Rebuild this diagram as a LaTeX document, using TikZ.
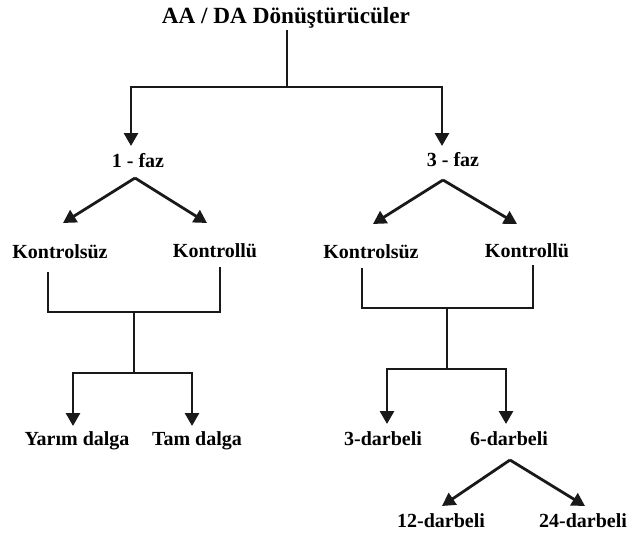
\documentclass[tikz,border=0pt]{standalone}
\usepackage{fontspec}
\setmainfont{Liberation Serif}
\usetikzlibrary{arrows.meta}
\begin{document}
\begin{tikzpicture}[x=1pt,y=-1pt,
  lbl/.style={anchor=base,inner sep=0pt,font=\fontsize{20}{22}\selectfont\bfseries},
  ttl/.style={anchor=base,inner sep=0pt,font=\fontsize{23.2}{26}\selectfont\bfseries},
  conn/.style={line width=2.8pt,draw=black!90},
  arr/.style={conn,-{Triangle[length=13pt,width=14pt]}}]
\useasboundingbox (0,0) rectangle (633,533);
% texts
\node[ttl] (title) at (286,23) {AA / DA Dönüştürücüler};
\node[lbl] (f1) at (138,167) {1 - faz};
\node[lbl] (f3) at (453,166) {3 - faz};
\node[lbl] (k1) at (60,258) {Kontrolsüz};
\node[lbl] (c1) at (215,257) {Kontrollü};
\node[lbl] (k3) at (371,258) {Kontrolsüz};
\node[lbl] (c3) at (527,257) {Kontrollü};
\node[lbl] (yd) at (77,445) {Yarım dalga};
\node[lbl] (td) at (197,445) {Tam dalga};
\node[lbl] (d3) at (383,445) {3-darbeli};
\node[lbl] (d6) at (509,445) {6-darbeli};
\node[lbl] (d12) at (441,527) {12-darbeli};
\node[lbl] (d24) at (583,527) {24-darbeli};
% top split
\coordinate (t0) at (287,30);
\coordinate (tj) at (287,87);
\coordinate (ta1) at (131,146);
\coordinate (ta3) at (442,146);
\draw[conn] (t0) -- (tj);
\draw[arr] (tj) -| (ta1);
\draw[arr] (tj) -| (ta3);
% 1-faz diagonals
\coordinate (p1) at (135,178);
\coordinate (p1l) at (63,223);
\coordinate (p1r) at (207,223);
\draw[arr] (p1) -- (p1l);
\draw[arr] (p1) -- (p1r);
% 3-faz diagonals
\coordinate (p3) at (443,180);
\coordinate (p3l) at (373,224);
\coordinate (p3r) at (517,224);
\draw[arr] (p3) -- (p3l);
\draw[arr] (p3) -- (p3r);
% left bracket
\coordinate (lk) at (48,272);
\coordinate (lc) at (220,267);
\coordinate (lb) at (134,312);
\coordinate (lm) at (134,373);
\coordinate (lya) at (73,426);
\coordinate (lta) at (192,426);
\draw[conn] (lk) |- (lb) -| (lc);
\draw[conn] (lb) -- (lm);
\draw[arr] (lm) -| (lya);
\draw[arr] (lm) -| (lta);
% right bracket
\coordinate (rk) at (362,268);
\coordinate (rc) at (533,265);
\coordinate (rb) at (447,308);
\coordinate (rm) at (447,369);
\coordinate (r3a) at (387,424);
\coordinate (r6a) at (506,424);
\draw[conn] (rk) |- (rb) -| (rc);
\draw[conn] (rb) -- (rm);
\draw[arr] (rm) -| (r3a);
\draw[arr] (rm) -| (r6a);
% 6-darbeli diagonals
\coordinate (p6) at (510,460);
\coordinate (p6l) at (442,506);
\coordinate (p6r) at (585,506);
\draw[arr] (p6) -- (p6l);
\draw[arr] (p6) -- (p6r);
\end{tikzpicture}
\end{document}
